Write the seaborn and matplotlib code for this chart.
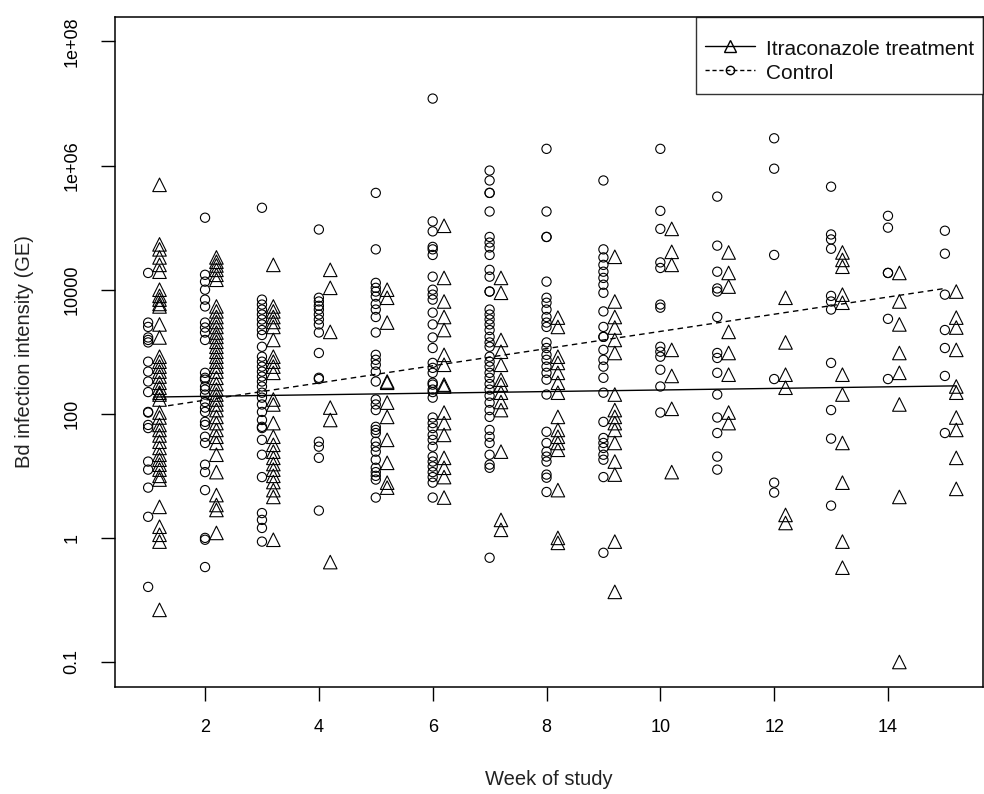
import numpy as np
import pandas as pd
import matplotlib
matplotlib.use('Agg')
import matplotlib.pyplot as plt
import seaborn as sns
from matplotlib.lines import Line2D

sns.set_style('ticks')
plt.rcParams['font.family'] = ['Liberation Sans', 'DejaVu Sans']

# Bd load per swab, log10(GE), one list per week
weeks = list(range(1, 16))

control_log10 = [
    [4.27, 3.47, 3.40, 3.23, 3.19, 3.15, 2.84, 2.68, 2.52, 2.35, 2.03, 2.02, 1.82, 1.77, 1.23, 1.10, 0.81, 0.34, -0.79],
    [5.16, 4.24, 4.13, 4.00, 3.84, 3.73, 3.47, 3.39, 3.31, 3.19, 2.66, 2.58, 2.39, 2.31, 2.55, 2.44, 2.19, 2.10, 2.03,
     1.87, 1.82, 1.63, 1.53, 1.18, 1.06, 0.77, 0.00, -0.03, -0.47],
    [5.32, 3.84, 3.76, 3.68, 3.60, 3.52, 3.44, 3.35, 3.27, 3.08, 2.92, 2.84, 2.76, 2.68, 2.60, 2.52, 2.44, 2.34, 2.26,
     2.15, 2.03, 1.90, 1.79, 1.77, 1.58, 1.34, 0.98, 0.40, 0.29, 0.16, -0.06],
    [4.97, 3.87, 3.81, 3.74, 3.68, 3.60, 3.52, 3.44, 3.31, 2.98, 2.58, 2.56, 1.55, 1.47, 1.29, 0.44],
    [5.56, 4.65, 4.11, 4.03, 3.97, 3.89, 3.77, 3.68, 3.56, 3.31, 2.95, 2.87, 2.79, 2.68, 2.52, 2.23, 2.15, 2.06, 1.79,
     1.74, 1.69, 1.55, 1.47, 1.39, 1.26, 1.13, 1.06, 1.00, 0.94, 0.65],
    [7.08, 5.10, 4.94, 4.69, 4.65, 4.56, 4.21, 4.00, 3.92, 3.84, 3.63, 3.44, 3.23, 3.06, 2.82, 2.74, 2.66, 2.50, 2.39,
     2.47, 2.35, 2.26, 1.94, 1.85, 1.77, 1.66, 1.58, 1.47, 1.31, 1.23, 1.15, 1.06, 0.98, 0.89, 0.65],
    [5.92, 5.76, 5.56, 5.56, 5.26, 4.85, 4.76, 4.68, 4.56, 4.32, 4.21, 3.97, 3.97, 3.68, 3.60, 3.52, 3.44, 3.35, 3.24,
     3.15, 3.08, 2.92, 2.84, 2.76, 2.66, 2.58, 2.48, 2.39, 2.29, 2.18, 2.06, 1.95, 1.74, 1.63, 1.53, 1.34, 1.18, 1.13,
     -0.32],
    [6.27, 5.26, 4.85, 4.85, 4.13, 3.87, 3.79, 3.68, 3.56, 3.47, 3.40, 3.15, 3.06, 2.95, 2.87, 2.76, 2.66, 2.55, 2.31,
     1.71, 1.53, 1.39, 1.31, 1.23, 1.02, 0.97, 0.74],
    [5.76, 4.65, 4.52, 4.40, 4.29, 4.19, 4.08, 3.95, 3.65, 3.40, 3.24, 3.24, 3.03, 2.87, 2.76, 2.58, 2.34, 1.87, 1.61,
     1.53, 1.45, 1.34, 1.26, 0.98, -0.24],
    [6.27, 5.27, 4.98, 4.44, 4.35, 3.76, 3.71, 3.08, 3.00, 2.92, 2.71, 2.44, 2.02],
    [5.50, 4.71, 4.29, 4.02, 3.97, 3.56, 2.98, 2.90, 2.66, 2.31, 1.94, 1.69, 1.31, 1.10],
    [6.44, 5.95, 4.56, 2.56, 0.89, 0.73],
    [5.66, 4.89, 4.81, 4.66, 3.90, 3.81, 3.68, 2.82, 2.06, 1.60, 0.52],
    [5.19, 5.00, 4.27, 4.27, 3.53, 2.56],
    [4.95, 4.58, 3.92, 3.35, 3.06, 2.61, 1.69],
]

itra_log10 = [
    [5.69, 4.73, 4.65, 4.52, 4.40, 4.29, 4.00, 3.90, 3.84, 3.77, 3.73, 3.44, 3.23, 2.92, 2.84, 2.76, 2.68, 2.60, 2.50,
     2.42, 2.34, 2.31, 2.23, 2.02, 1.94, 1.82, 1.74, 1.65, 1.55, 1.45, 1.34, 1.26, 1.18, 1.10, 1.00, 0.94, 0.50, 0.18,
     0.05, -0.06, -1.16],
    [4.52, 4.45, 4.39, 4.32, 4.24, 4.16, 3.73, 3.65, 3.56, 3.48, 3.40, 3.31, 3.24, 3.16, 3.08, 3.00, 2.92, 2.84, 2.76,
     2.68, 2.58, 2.48, 2.39, 2.31, 2.23, 2.15, 2.06, 1.95, 1.85, 1.74, 1.63, 1.53, 1.34, 1.06, 0.69, 0.53, 0.45, 0.08],
    [4.40, 3.73, 3.65, 3.56, 3.48, 3.40, 3.19, 2.92, 2.84, 2.76, 2.66, 2.23, 2.15, 1.85, 1.63, 1.50, 1.39, 1.29, 1.19,
     1.10, 1.00, 0.90, 0.77, 0.66, -0.03],
    [4.32, 4.03, 3.32, 2.10, 1.90, -0.39],
    [4.00, 3.87, 3.47, 2.52, 2.50, 2.18, 1.95, 1.58, 1.21, 0.89, 0.81],
    [5.03, 4.19, 3.81, 3.56, 3.35, 2.95, 2.79, 2.47, 2.44, 2.02, 1.85, 1.66, 1.29, 1.13, 0.98, 0.65],
    [4.19, 3.95, 3.19, 3.00, 2.79, 2.55, 2.47, 2.34, 2.19, 2.06, 1.39, 0.29, 0.13],
    [3.55, 3.40, 2.92, 2.82, 2.66, 2.50, 2.34, 1.95, 1.74, 1.63, 1.53, 1.42, 0.77, 0.00, -0.08],
    [4.53, 3.81, 3.56, 3.39, 3.19, 2.98, 2.31, 2.06, 1.95, 1.85, 1.74, 1.53, 1.23, 1.02, -0.06, -0.87],
    [4.98, 4.61, 4.40, 3.03, 2.61, 2.08, 1.06],
    [4.60, 4.27, 4.05, 3.32, 2.98, 2.63, 2.02, 1.85],
    [3.87, 3.15, 2.63, 2.42, 0.37, 0.24],
    [4.60, 4.48, 4.37, 3.92, 3.79, 2.63, 2.31, 1.53, 0.89, -0.06, -0.48],
    [4.27, 3.81, 3.44, 2.98, 2.66, 2.15, 0.66, -2.00],
    [3.97, 3.55, 3.39, 3.03, 2.44, 2.34, 1.94, 1.74, 1.29, 0.79],
]
itra_offset = 0.2  # treatment points sit just right of the week

# fitted trend lines (end points, log10 GE)
itra_fit_x = [1.1, 15.2]
itra_fit_log10 = [2.27, 2.45]
ctrl_fit_x = [1.35, 15.0]
ctrl_fit_log10 = [2.13, 4.02]

# y axis is drawn on the log10 scale, labelled as in the original figure
y_tick_pos = [-2, 0, 2, 4, 6, 8]
y_tick_labels = ['0.1', '1', '100', '10000', '1e+06', '1e+08']
x_ticks = [2, 4, 6, 8, 10, 12, 14]

rows = []
for w, vals in zip(weeks, control_log10):
    for v in vals:
        rows.append({'week': w, 'log_ge': v, 'group': 'Control'})
for w, vals in zip(weeks, itra_log10):
    for v in vals:
        rows.append({'week': w + itra_offset, 'log_ge': v, 'group': 'Itraconazole treatment'})
df = pd.DataFrame(rows)

fig = plt.figure(figsize=(9.84, 7.94), dpi=100)
ax = fig.add_axes([0.117, 0.135, 0.882, 0.844])

sns.scatterplot(data=df[df.group == 'Itraconazole treatment'], x='week', y='log_ge', marker='^',
                s=95, color='black', linewidth=0.8, ax=ax, legend=False)
ax.collections[-1].set_facecolor('none')
ax.collections[-1].set_edgecolor('black')
sns.scatterplot(data=df[df.group == 'Control'], x='week', y='log_ge', marker='o',
                s=44, color='black', linewidth=0.8, ax=ax, legend=False)
ax.collections[-1].set_facecolor('none')
ax.collections[-1].set_edgecolor('black')

ax.plot(itra_fit_x, itra_fit_log10, color='black', lw=1.0)
ax.plot(ctrl_fit_x, ctrl_fit_log10, color='black', lw=1.0, dashes=(4, 3))

ax.set_xlim(0.42, 15.67)
ax.set_ylim(-2.4, 8.4)
ax.set_xticks(x_ticks)
ax.set_yticks(y_tick_pos)
ax.set_yticklabels(y_tick_labels, rotation=90, va='center')
ax.tick_params(axis='both', direction='out', length=10, width=1, labelsize=13, colors='black')
ax.tick_params(axis='x', pad=13)
ax.tick_params(axis='y', pad=15)

for s in ax.spines.values():
    s.set_color('black')
    s.set_linewidth(1.1)

ax.set_xlabel('Week of study', fontsize=14.5, labelpad=25, color='#222222')
ax.set_ylabel('Bd infection intensity (GE)', fontsize=14.5, labelpad=21, color='#222222')

handles = [
    Line2D([0], [0], color='black', lw=1, marker='^', markersize=9, markerfacecolor='none',
           markeredgecolor='black'),
    Line2D([0], [0], color='black', lw=1, dashes=(3, 2), marker='o', markersize=6,
           markerfacecolor='none', markeredgecolor='black'),
]
# small blank title gives the extra room above the entries
leg = ax.legend(handles, ['Itraconazole treatment', 'Control'], loc='upper right',
                fontsize=15, frameon=True, fancybox=False, edgecolor='black',
                borderaxespad=0.0, handlelength=2.4, handleheight=1.4, borderpad=0.45,
                labelspacing=0.0, handletextpad=0.5, title=' ', title_fontsize=8)
leg.get_frame().set_linewidth(1.0)
for t in leg.get_texts():
    t.set_color('#111111')

fig.savefig('out.png', dpi=100, facecolor='white')
